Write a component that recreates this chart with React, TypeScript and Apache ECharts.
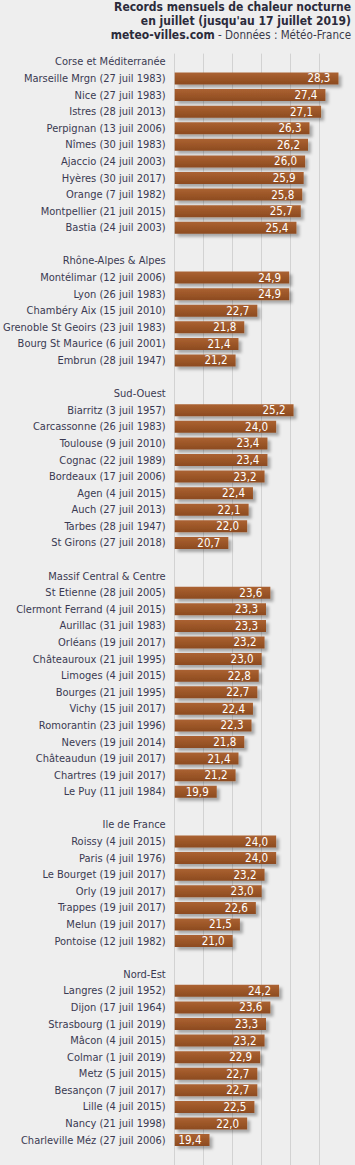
import React, { useEffect, useRef } from "react";
import * as echarts from "echarts";

const corseNames = ["Marseille Mrgn (27 juil 1983)", "Nice (27 juil 1983)", "Istres (28 juil 2013)", "Perpignan (13 juil 2006)", "Nîmes (30 juil 1983)", "Ajaccio (24 juil 2003)", "Hyères (30 juil 2017)", "Orange (7 juil 1982)", "Montpellier (21 juil 2015)", "Bastia (24 juil 2003)"];
const corseValues = [28.3, 27.4, 27.1, 26.3, 26.2, 26.0, 25.9, 25.8, 25.7, 25.4];

const rhoneNames = ["Montélimar (12 juil 2006)", "Lyon (26 juil 1983)", "Chambéry Aix (15 juil 2010)", "Grenoble St Geoirs (23 juil 1983)", "Bourg St Maurice (6 juil 2001)", "Embrun (28 juil 1947)"];
const rhoneValues = [24.9, 24.9, 22.7, 21.8, 21.4, 21.2];

const sudOuestNames = ["Biarritz (3 juil 1957)", "Carcassonne (26 juil 1983)", "Toulouse (9 juil 2010)", "Cognac (22 juil 1989)", "Bordeaux (17 juil 2006)", "Agen (4 juil 2015)", "Auch (27 juil 2013)", "Tarbes (28 juil 1947)", "St Girons (27 juil 2018)"];
const sudOuestValues = [25.2, 24.0, 23.4, 23.4, 23.2, 22.4, 22.1, 22.0, 20.7];

const massifNames = ["St Etienne (28 juil 2005)", "Clermont Ferrand (4 juil 2015)", "Aurillac (31 juil 1983)", "Orléans (19 juil 2017)", "Châteauroux (21 juil 1995)", "Limoges (4 juil 2015)", "Bourges (21 juil 1995)", "Vichy (15 juil 2017)", "Romorantin (23 juil 1996)", "Nevers (19 juil 2014)", "Châteaudun (19 juil 2017)", "Chartres (19 juil 2017)", "Le Puy (11 juil 1984)"];
const massifValues = [23.6, 23.3, 23.3, 23.2, 23.0, 22.8, 22.7, 22.4, 22.3, 21.8, 21.4, 21.2, 19.9];

const idfNames = ["Roissy (4 juil 2015)", "Paris (4 juil 1976)", "Le Bourget (19 juil 2017)", "Orly (19 juil 2017)", "Trappes (19 juil 2017)", "Melun (19 juil 2017)", "Pontoise (12 juil 1982)"];
const idfValues = [24.0, 24.0, 23.2, 23.0, 22.6, 21.5, 21.0];

const nordEstNames = ["Langres (2 juil 1952)", "Dijon (17 juil 1964)", "Strasbourg (1 juil 2019)", "Mâcon (4 juil 2015)", "Colmar (1 juil 2019)", "Metz (5 juil 2015)", "Besançon (7 juil 2017)", "Lille (4 juil 2015)", "Nancy (21 juil 1998)", "Charleville Méz (27 juil 2006)"];
const nordEstValues = [24.2, 23.6, 23.3, 23.2, 22.9, 22.7, 22.7, 22.5, 22.0, 19.4];

const groupTitles = ["Corse et Méditerranée", "Rhône-Alpes & Alpes", "Sud-Ouest", "Massif Central & Centre", "Ile de France", "Nord-Est"];

const titleLines = ["Records mensuels de chaleur nocturne", "en juillet (jusqu'au 17 juillet 2019)"];
const sourceBold = "meteo-villes.com";
const sourceRest = " - Données : Météo-France";

const FONT = "DejaVu Sans Condensed";

export default function App() {
  const ref = useRef<HTMLDivElement>(null);
  useEffect(() => {
    if (!ref.current) return;
    const chart = echarts.init(ref.current, null, { renderer: "svg" });
    const groups = [
      [corseNames, corseValues],
      [rhoneNames, rhoneValues],
      [sudOuestNames, sudOuestValues],
      [massifNames, massifValues],
      [idfNames, idfValues],
      [nordEstNames, nordEstValues],
    ] as [string[], number[]][];
    const cats: string[] = [];
    const vals: (number | null)[] = [];
    groups.forEach(([names, values], gi) => {
      cats.push(groupTitles[gi]);
      vals.push(null);
      names.forEach((n, i) => {
        cats.push(n);
        vals.push(values[i]);
      });
      cats.push("");
      vals.push(null);
    });
    const rowH = 16.71;
    const top = 53.6;
    chart.setOption({
      animation: false,
      backgroundColor: "#eeeeee",
      graphic: [
        {
          type: "text",
          right: 4,
          top: 1,
          style: {
            text: titleLines[0],
            font: `bold 12px ${FONT}`,
            fill: "#2b2b3b",
            textAlign: "right",
          },
        },
        {
          type: "text",
          right: 4,
          top: 15,
          style: {
            text: titleLines[1],
            font: `bold 12px ${FONT}`,
            fill: "#2b2b3b",
            textAlign: "right",
          },
        },
        {
          type: "text",
          right: 4,
          top: 29,
          style: {
            text: `{b|${sourceBold}}{n|${sourceRest}}`,
            rich: {
              b: { fontFamily: FONT, fontWeight: "bold", fontSize: 12, fill: "#2b2b3b", color: "#2b2b3b" },
              n: { fontFamily: FONT, fontSize: 11.5, fill: "#3a3a4a", color: "#3a3a4a" },
            },
            textAlign: "right",
          },
        },
      ],
      grid: {
        left: 172,
        right: 6.4,
        top: top,
        height: rowH * cats.length,
        containLabel: false,
      },
      xAxis: {
        type: "value",
        min: 17,
        max: 29,
        interval: 2,
        position: "top",
        axisLabel: { show: false },
        axisLine: { show: false },
        axisTick: { show: false },
        splitLine: {
          show: true,
          showMinLine: true,
          showMaxLine: false,
          lineStyle: { color: "#d2d2d2", width: 1 },
        },
      },
      yAxis: {
        type: "category",
        inverse: true,
        data: cats,
        axisLine: { show: false },
        axisTick: { show: false },
        splitLine: { show: false },
        axisLabel: {
          margin: 9,
          interval: 0,
          fontFamily: FONT,
          fontSize: 11,
          color: "#3a3a52",
        },
      },
      series: [
        {
          type: "bar",
          data: vals,
          barWidth: 12,
          itemStyle: {
            color: new echarts.graphic.LinearGradient(0, 0, 0, 1, [
              { offset: 0, color: "#ab6232" },
              { offset: 0.5, color: "#9c5628" },
              { offset: 1, color: "#8c4b20" },
            ]),
            shadowBlur: 3,
            shadowOffsetX: 3,
            shadowOffsetY: 3,
            shadowColor: "rgba(0,0,0,0.3)",
          },
          label: {
            show: true,
            position: "insideRight",
            distance: 8,
            color: "#ffffff",
            fontFamily: FONT,
            fontSize: 11.5,
            formatter: (p: any) => (p.value == null ? "" : Number(p.value).toFixed(1).replace(".", ",")),
          },
        },
      ],
    });
    return () => chart.dispose();
  }, []);
  return (
    <div
      ref={ref}
      style={{ position: "absolute", left: 0, top: 0, width: 355, height: 1165 }}
    />
  );
}
